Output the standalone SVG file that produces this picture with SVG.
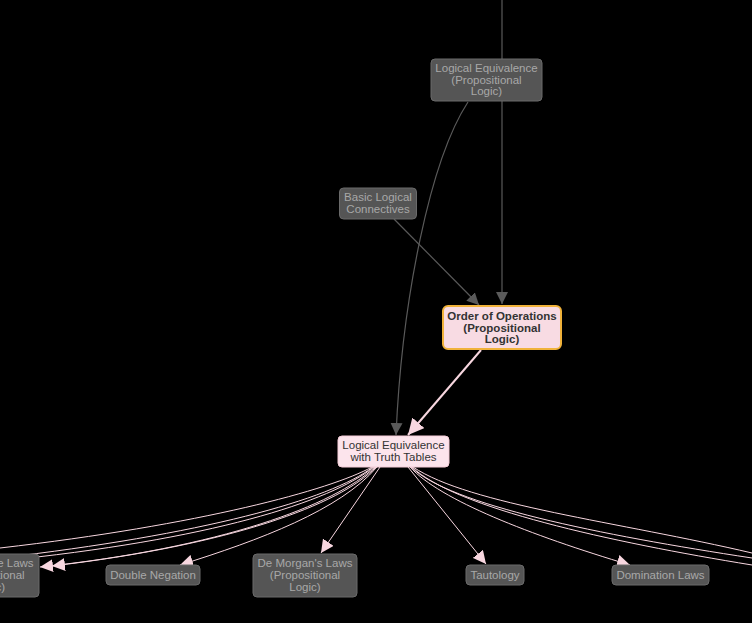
<svg xmlns="http://www.w3.org/2000/svg" width="752" height="623" viewBox="0 0 752 623">
<style>
.bg{fill:#000}
.g rect{fill:#555;stroke:#6a6a6a;stroke-width:1}
.g text{fill:#a8a8a8}
text{font-family:"Liberation Sans",Arial,sans-serif;font-size:11.5px;text-anchor:middle}
.ge{stroke:#5a5a5a;stroke-width:1.2;fill:none}
.pe{stroke:#f8d7e0;stroke-width:1;fill:none}
.pk{stroke:#f8d7e0;stroke-width:2;fill:none}
</style>
<defs>
<marker id="ag" viewBox="0 0 10 10" refX="10" refY="5" markerWidth="12" markerHeight="12" markerUnits="userSpaceOnUse" orient="auto"><path d="M0,0 L10,5 L0,10 z" fill="#5a5a5a"/></marker>
<marker id="ap" viewBox="0 0 10 10" refX="10" refY="5" markerWidth="13" markerHeight="13" markerUnits="userSpaceOnUse" orient="auto"><path d="M0,0 L10,5 L0,10 z" fill="#f8d7e0"/></marker>
<marker id="ap2" viewBox="0 0 10 10" refX="10" refY="5" markerWidth="16" markerHeight="16" markerUnits="userSpaceOnUse" orient="auto"><path d="M0,0 L10,5 L0,10 z" fill="#f8d7e0"/></marker>
</defs>
<rect class="bg" x="0" y="0" width="752" height="623"/>
<g id="edges">
<path class="ge" d="M502,0 L502,304" marker-end="url(#ag)"/>
<path class="ge" d="M468,102 C430,160 402,300 396,435" marker-end="url(#ag)"/>
<path class="ge" d="M394,219 L479,305" marker-end="url(#ag)"/>
<path class="pk" d="M481,350 L408,435" marker-end="url(#ap2)"/>
<path class="pe" d="M372,467 C330,490 200,525 0,548"/>
<path class="pe" d="M373,467 C330,500 200,535 0,558"/>
<path class="pe" d="M374,467 C330,502 210,540 0,561"/>
<path class="pe" d="M375,467 C335,505 220,548 40,567" marker-end="url(#ap)"/>
<path class="pe" d="M376,467 C340,505 230,545 52,566" marker-end="url(#ap)"/>
<path class="pe" d="M377,467 C340,510 260,540 180,565" marker-end="url(#ap)"/>
<path class="pe" d="M380,467 L321,553" marker-end="url(#ap)"/>
<path class="pe" d="M408,467 L486,564" marker-end="url(#ap)"/>
<path class="pe" d="M410,467 C440,500 530,535 630,565" marker-end="url(#ap)"/>
<path class="pe" d="M411,467 C450,505 600,535 752,558"/>
<path class="pe" d="M412,467 C455,508 610,542 752,565"/>
<path class="pe" d="M413,467 C470,505 620,522 752,553"/>
</g>
<g id="n-logeq-prop" class="g">
<rect x="431" y="59" width="111" height="42" rx="4"/>
<text x="486.5" y="72">Logical Equivalence</text>
<text x="486.5" y="83.5">(Propositional</text>
<text x="486.5" y="95">Logic)</text>
</g>
<g id="n-basic" class="g">
<rect x="339.5" y="188" width="77" height="31" rx="4"/>
<text x="378" y="201">Basic Logical</text>
<text x="378" y="213">Connectives</text>
</g>
<g id="n-order">
<rect x="443" y="306" width="118" height="43" rx="5" fill="#f8dbe3" stroke="#f0b23a" stroke-width="2"/>
<text x="502" y="320" font-weight="bold" fill="#333">Order of Operations</text>
<text x="502" y="331.5" font-weight="bold" fill="#333">(Propositional</text>
<text x="502" y="343" font-weight="bold" fill="#333">Logic)</text>
</g>
<g id="n-truth">
<rect x="338" y="436" width="111" height="31" rx="4" fill="#fce4ec" stroke="#f5cdd8" stroke-width="1"/>
<text x="393.5" y="449" fill="#333">Logical Equivalence</text>
<text x="393.5" y="461" fill="#333">with Truth Tables</text>
</g>
<g id="n-assoc" class="g">
<rect x="-60" y="554" width="99" height="43" rx="4"/>
<text x="-10.5" y="567">Associative Laws</text>
<text x="-10.5" y="579">(Propositional</text>
<text x="-10.5" y="591">Logic)</text>
</g>
<g id="n-dneg" class="g">
<rect x="106" y="565" width="94" height="20" rx="4"/>
<text x="153" y="579">Double Negation</text>
</g>
<g id="n-demorgan" class="g">
<rect x="253" y="554" width="104" height="43" rx="4"/>
<text x="305" y="567">De Morgan's Laws</text>
<text x="305" y="579">(Propositional</text>
<text x="305" y="591">Logic)</text>
</g>
<g id="n-taut" class="g">
<rect x="466" y="565" width="58" height="20" rx="4"/>
<text x="495" y="579">Tautology</text>
</g>
<g id="n-dom" class="g">
<rect x="612" y="565" width="97" height="20" rx="4"/>
<text x="660.5" y="579">Domination Laws</text>
</g>
</svg>
